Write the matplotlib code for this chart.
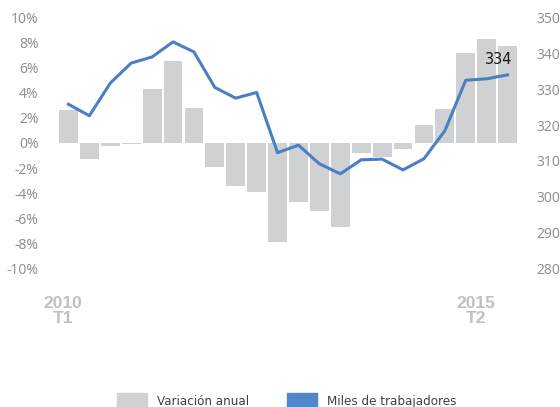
import matplotlib
matplotlib.use("Agg")
import matplotlib.pyplot as plt
from matplotlib.patches import Patch
from matplotlib import font_manager
import numpy as np

# quarterly data 2010 T1 .. 2015 T2
quarters = ["2010T1", "2010T2", "2010T3", "2010T4",
            "2011T1", "2011T2", "2011T3", "2011T4",
            "2012T1", "2012T2", "2012T3", "2012T4",
            "2013T1", "2013T2", "2013T3", "2013T4",
            "2014T1", "2014T2", "2014T3", "2014T4",
            "2015T1", "2015T2"]
variacion = [2.6, -1.3, -0.2, -0.05, 4.3, 6.5, 2.8, -1.9, -3.4, -3.9, -7.9,
             -4.7, -5.4, -6.7, -0.8, -1.1, -0.45, 1.45, 2.7, 7.2, 8.3, 7.75]
miles = [325.8, 322.6, 331.7, 337.3, 339.0, 343.2, 340.4, 330.5, 327.5, 329.1, 312.3,
         314.4, 309.2, 306.4, 310.3, 310.5, 307.5, 310.6, 318.4, 332.5, 332.9, 334.0]

left_ticks = list(range(-10, 11, 2))
right_ticks = list(range(280, 351, 10))

bar_color = "#d0d1d3"
line_color = "#4a7fc4"
tick_color = "#8c8c8c"

# a narrow face for the legend if one is around
names = set(f.name for f in font_manager.fontManager.ttflist)
if "Liberation Sans Narrow" in names:
    leg_prop = {"family": "Liberation Sans Narrow", "size": 10.5}
else:
    leg_prop = {"family": "DejaVu Sans", "stretch": "condensed", "size": 9.5}

fig = plt.figure(figsize=(5.6, 4.07), dpi=100)
ax = fig.add_axes([58 / 560, 138.5 / 407, 460 / 560, 251 / 407])
x = np.arange(len(quarters))
ax.bar(x, variacion, width=0.9, color=bar_color)
ax.set_xlim(-0.5, len(quarters) - 0.5)
ax.set_ylim(-10, 10)
ax.set_yticks(left_ticks)
ax.set_yticklabels(["%d%%" % v for v in left_ticks])
ax.set_xticks([])
ax.tick_params(axis="y", length=0, pad=14, labelsize=10, labelcolor=tick_color)
for s in ax.spines.values():
    s.set_visible(False)

ax2 = ax.twinx()
ax2.plot(x, miles, color=line_color, linewidth=2.2)
ax2.set_ylim(280, 350)
ax2.set_yticks(right_ticks)
ax2.tick_params(axis="y", length=0, pad=13, labelsize=10, labelcolor=tick_color)
for s in ax2.spines.values():
    s.set_visible(False)
ax2.annotate("%d" % round(miles[-1]), (x[-1], miles[-1]), xytext=(-9, 15),
             textcoords="offset pixels", ha="center", va="center",
             fontsize=10.5, color="#1a1a1a")

for lbl in ax.get_yticklabels() + ax2.get_yticklabels():
    lbl.set_family("Open Sans")

# period labels
fig.text(63 / 560, 1 - 311 / 407, "2010\nT1", ha="center", va="center",
         fontsize=12.5, fontweight="bold", color="#c0c0c0",
         family="Liberation Sans", linespacing=0.95)
fig.text(476 / 560, 1 - 311 / 407, "2015\nT2", ha="center", va="center",
         fontsize=12.5, fontweight="bold", color="#c0c0c0",
         family="Liberation Sans", linespacing=0.95)

handles = [Patch(color=bar_color, label="Variación anual"),
           Patch(color="#5187c8", label="Miles de trabajadores")]
fig.legend(handles=handles, loc="upper left", bbox_to_anchor=(117 / 560, 1 - 393 / 407),
           ncol=2, frameon=False, borderpad=0, borderaxespad=0,
           handlelength=2.3, handleheight=1.4, handletextpad=0.7,
           columnspacing=2.9, prop=leg_prop, labelcolor="#404040")

fig.savefig("out.png", dpi=100)
